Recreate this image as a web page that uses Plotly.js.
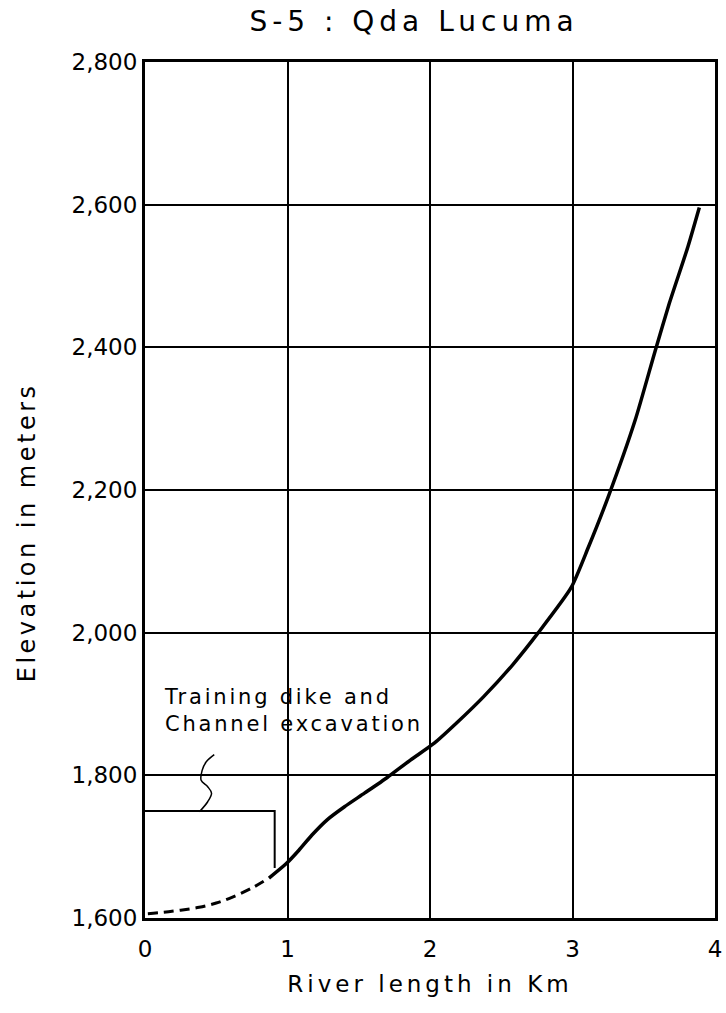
<!DOCTYPE html>
<html>
<head>
<meta charset="utf-8">
<script src="https://cdn.plot.ly/plotly-3.0.1.min.js"></script>
<style>
  html, body { margin: 0; padding: 0; background: #fff; }
  #chart { width: 726px; height: 1013px; }
  .gtitle { letter-spacing: 5px; }
  .xtitle { letter-spacing: 4px; }
  .annotation[data-index="0"] .annotation-text { letter-spacing: 3.5px; }
  .annotation[data-index="1"] .annotation-text { letter-spacing: 2.8px; }
</style>
</head>
<body>
<div id="chart"></div>
<script>
// Profile of Qda Lucuma: river length (km) vs elevation (m)
const dashedX = [0.02, 0.13, 0.25, 0.38, 0.50, 0.61, 0.75, 0.87];
const dashedY = [1606, 1608, 1611, 1615, 1621, 1629, 1642, 1656];
const solidX = [0.87, 0.99, 1.08, 1.17, 1.28, 1.40, 1.54, 1.70, 1.86, 2.03, 2.19, 2.375, 2.58, 2.76, 2.99, 3.11, 3.25, 3.44, 3.58, 3.68, 3.81, 3.89];
const solidY = [1656, 1676, 1695, 1716, 1738, 1756, 1775, 1797, 1821, 1845, 1874, 1910, 1955, 2000, 2063, 2119, 2190, 2298, 2395, 2462, 2541, 2596];
// Training dike and channel excavation bracket and leader
const bracketX = [0, 0.91, 0.91];
const bracketY = [1750, 1750, 1670];
const leaderX = [0.382, 0.44, 0.467, 0.44, 0.394, 0.401, 0.43, 0.486];
const leaderY = [1749, 1763, 1775, 1784, 1793, 1807, 1819, 1829];
const xTicks = [0, 1, 2, 3, 4];
const xTickText = ['0', '1', '2', '3', '4'];
const yTicks = [1600, 1800, 2000, 2200, 2400, 2600, 2800];
const yTickText = ['1,600', '1,800', '2,000', '2,200', '2,400', '2,600', '2,800'];
const titleText = 'S-5 : Qda Lucuma';
const xTitle = 'River length in Km';
const yTitle = 'Elevation in meters';
const noteText = 'Training dike and<br>Channel excavation';

const FONT = 'DejaVu Sans, sans-serif';

const traces = [
  { x: dashedX, y: dashedY, mode: 'lines', line: { color: '#000', width: 3, dash: '10px,6px', shape: 'spline' }, hoverinfo: 'skip' },
  { x: solidX, y: solidY, mode: 'lines', line: { color: '#000', width: 3.5, shape: 'spline', smoothing: 0.6 }, hoverinfo: 'skip' },
  { x: bracketX, y: bracketY, mode: 'lines', line: { color: '#000', width: 2 }, hoverinfo: 'skip' },
  { x: leaderX, y: leaderY, mode: 'lines', line: { color: '#000', width: 1.5, shape: 'spline' }, hoverinfo: 'skip' }
];

const layout = {
  width: 726, height: 1013,
  margin: { l: 145, r: 11, t: 62, b: 95 },
  paper_bgcolor: '#fff', plot_bgcolor: '#fff',
  showlegend: false,
  font: { family: FONT, color: '#000', size: 20 },
  title: {
    text: titleText,
    font: { family: FONT, size: 28, color: '#000' },
    x: 414 / 726, xanchor: 'center', xref: 'container',
    y: 1 - 21 / 1013, yanchor: 'middle', yref: 'container'
  },
  xaxis: {
    range: [0, 4], tickvals: xTicks, ticktext: xTickText,
    showgrid: true, gridcolor: '#000', gridwidth: 2,
    showline: true, linecolor: '#000', linewidth: 3, mirror: true,
    zeroline: false, ticks: '', ticklabelstandoff: 8, ticklabeloverflow: 'allow',
    tickfont: { family: FONT, size: 23, color: '#000' },
    title: { text: xTitle, font: { family: FONT, size: 23, color: '#000' }, standoff: 16 }
  },
  yaxis: {
    range: [1600, 2800], tickvals: yTicks, ticktext: yTickText,
    showgrid: true, gridcolor: '#000', gridwidth: 2,
    showline: true, linecolor: '#000', linewidth: 3, mirror: true,
    zeroline: false, ticks: '', ticklabelstandoff: 0,
    tickfont: { family: FONT, size: 23, color: '#000' }
  },
  annotations: [
    {
      text: yTitle, xref: 'paper', yref: 'paper',
      x: (27 - 145) / 570, y: (918 - 533) / 856,
      xanchor: 'center', yanchor: 'middle', textangle: -90, showarrow: false,
      font: { family: FONT, size: 24, color: '#000' }
    },
    {
      text: noteText, xref: 'x', yref: 'y', x: 0.12, y: 1891,
      xanchor: 'left', yanchor: 'middle', align: 'left', showarrow: false,
      font: { family: FONT, size: 21, color: '#000' }
    }
  ]
};

Plotly.newPlot('chart', traces, layout, { staticPlot: true, displayModeBar: false });
</script>
</body>
</html>
